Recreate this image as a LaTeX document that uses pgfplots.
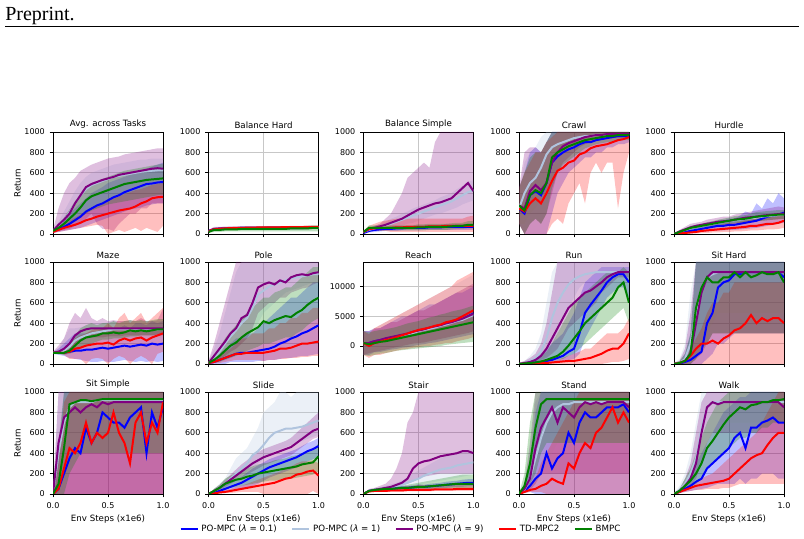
\documentclass[border=0pt]{standalone}
\usepackage{fontspec}
\setmainfont{DejaVu Sans}
\newfontfamily\serifx{Liberation Serif}
\usepackage{pgfplots}
\usepackage{pgfplotstable}
\pgfplotsset{compat=1.18}
\usepgfplotslibrary{fillbetween}
\definecolor{cb}{RGB}{0,0,255}
\definecolor{cs}{RGB}{176,196,222}
\definecolor{cp}{RGB}{128,0,128}
\definecolor{cr}{RGB}{255,0,0}
\definecolor{cg}{RGB}{0,128,0}

\newcommand\bandof[3]{%
  \addplot[draw=none,forget plot,name path=U#2] table[x=x,y=#2h]{#1};
  \addplot[draw=none,forget plot,name path=L#2] table[x=x,y=#2l]{#1};
  \addplot[fill=#3,fill opacity=0.25,draw=none,forget plot] fill between[of=U#2 and L#2];}
\newcommand\lineof[3]{\addplot[#3,line width=1.5pt,forget plot] table[x=x,y=#2]{#1};}
\newcommand\panel[1]{\bandof{#1}{b}{cb}\bandof{#1}{s}{cs}\bandof{#1}{p}{cp}\bandof{#1}{r}{cr}\bandof{#1}{g}{cg}%
  \lineof{#1}{b}{cb}\lineof{#1}{s}{cs}\lineof{#1}{p}{cp}\lineof{#1}{r}{cr}\lineof{#1}{g}{cg}}

% ---------- Avg. across Tasks
\pgfplotstableread{
k 0 0.05 0.1 0.15 0.2 0.25 0.3 0.35 0.4 0.45 0.5 0.55 0.6 0.65 0.7 0.75 0.8 0.85 0.9 0.95 1
b 30 50 70 100 135 170 220 250 280 300 330 360 380 410 430 450 470 490 495 505 510
bl 10 20 30 40 50 60 80 100 120 140 160 180 200 220 240 250 260 280 290 300 300
bh 50 100 150 200 250 300 350 400 430 460 500 520 540 560 580 600 620 640 660 680 700
s 30 80 140 210 300 380 440 480 500 520 540 560 570 580 590 600 610 615 620 625 625
sl 20 50 90 140 200 260 320 350 380 400 420 440 450 460 470 480 490 490 500 500 500
sh 40 120 220 320 420 500 560 600 620 640 660 680 690 700 710 720 730 730 740 740 740
p 30 90 140 200 300 380 460 490 510 530 545 560 580 590 600 610 620 630 640 645 640
pl 10 30 40 50 80 100 150 200 100 50 50 30 100 150 200 200 250 250 300 300 300
ph 40 250 400 500 550 620 650 680 700 720 740 750 760 780 790 800 810 820 830 840 840
r 20 40 60 75 90 110 135 150 170 185 200 215 230 240 250 270 300 320 350 360 365
rl 10 20 30 40 50 60 70 80 90 80 0 20 40 20 40 60 30 60 40 20 80
rh 30 70 100 130 160 190 220 250 280 300 330 350 370 390 410 430 440 460 480 490 500
g 30 60 100 150 200 260 330 370 390 410 430 450 470 490 500 510 520 530 535 540 545
gl 20 40 60 90 120 160 200 230 250 270 290 300 310 320 330 340 350 360 370 380 380
gh 40 90 160 240 320 380 450 500 520 540 560 580 600 620 630 640 650 660 670 680 690
}\rawA
\pgfplotstabletranspose[colnames from=k,input colnames to=x]\tA\rawA

% ---------- Balance Hard
\pgfplotstableread{
k 0 0.05 0.1 0.15 0.2 0.25 0.3 0.35 0.4 0.45 0.5 0.55 0.6 0.65 0.7 0.75 0.8 0.85 0.9 0.95 1
b 30 45 50 55 55 55 60 60 60 60 60 60 60 60 60 60 60 60 65 65 65
bl 20 30 35 40 40 40 45 45 45 45 45 45 45 45 45 45 45 45 50 50 50
bh 40 60 65 70 70 70 75 75 75 75 75 75 75 75 75 75 75 75 80 80 80
s 30 45 50 52 55 55 55 58 58 58 60 60 60 60 60 60 60 62 62 62 62
sl 20 30 35 40 40 40 40 45 45 45 45 45 45 45 45 45 45 45 45 45 45
sh 40 60 65 65 70 70 70 70 72 72 75 75 75 75 75 75 75 78 78 78 78
p 30 50 55 55 58 58 60 60 60 60 60 62 62 62 62 62 62 62 62 65 65
pl 20 35 40 40 42 42 45 45 45 45 45 45 45 45 45 45 45 45 45 50 50
ph 40 70 70 72 75 75 75 75 75 75 75 78 78 78 78 78 78 78 78 80 80
r 25 45 50 55 58 60 60 62 63 64 65 65 66 66 67 67 68 68 70 70 70
rl 20 40 45 50 52 55 55 56 57 58 58 58 60 60 60 60 60 60 62 62 62
rh 30 50 55 60 64 65 65 68 69 70 72 72 72 72 74 74 76 76 78 78 78
g 20 40 40 45 45 45 50 50 50 50 50 50 50 50 50 55 55 55 55 60 60
gl 10 20 20 25 25 25 25 25 25 25 25 25 25 25 25 25 25 25 25 25 25
gh 35 60 60 65 65 65 70 70 70 70 75 75 75 75 75 80 80 80 80 85 85
}\rawB
\pgfplotstabletranspose[colnames from=k,input colnames to=x]\tB\rawB

% ---------- Balance Simple
\pgfplotstableread{
k 0 0.05 0.1 0.15 0.2 0.25 0.3 0.35 0.4 0.45 0.5 0.55 0.6 0.65 0.7 0.75 0.8 0.85 0.9 0.95 1
b 10 30 40 45 50 50 55 55 60 60 60 60 65 65 65 70 70 70 70 70 70
bl 0 15 20 25 30 30 30 35 35 35 35 40 40 40 40 40 40 40 40 40 40
bh 20 45 60 65 70 70 75 75 80 80 85 85 90 90 90 95 95 95 95 100 100
s 20 40 55 70 85 100 120 140 160 180 200 220 240 260 280 300 320 350 380 410 430
sl 10 20 30 40 50 60 70 80 100 110 130 150 170 190 200 220 240 260 290 310 330
sh 30 60 80 100 120 150 170 200 220 250 270 290 310 330 360 380 400 440 470 510 530
p 20 45 60 75 90 110 130 150 180 210 240 260 280 300 310 330 350 400 450 500 420
pl 10 30 40 50 60 60 60 60 70 70 70 70 70 70 70 70 80 80 80 80 80
ph 30 60 80 100 150 200 300 400 550 600 650 700 650 900 1000 1000 1000 1000 1000 1000 1000
r 20 50 55 60 60 60 65 65 70 70 70 70 75 75 75 80 80 80 80 80 80
rl 10 30 30 30 30 20 20 20 20 20 20 20 20 20 20 20 20 20 20 20 20
rh 30 80 100 120 130 140 150 150 150 150 150 150 150 150 150 150 150 150 150 170 180
g 20 60 60 60 60 60 60 60 60 60 65 65 70 70 70 70 75 80 80 90 90
gl 10 35 35 35 35 35 35 35 35 35 35 35 40 40 40 40 45 50 50 55 55
gh 30 85 85 85 85 85 85 85 85 85 95 95 100 100 100 100 105 110 110 125 125
}\rawC
\pgfplotstabletranspose[colnames from=k,input colnames to=x]\tC\rawC

% ---------- Crawl
\pgfplotstableread{
k 0 0.05 0.1 0.15 0.2 0.25 0.3 0.35 0.4 0.45 0.5 0.55 0.6 0.65 0.7 0.75 0.8 0.85 0.9 0.95 1
b 250 200 380 420 380 500 700 760 800 830 850 880 900 900 920 930 940 950 960 960 960
bl 100 0 0 0 0 0 200 400 500 600 650 700 750 750 800 800 850 850 880 880 900
bh 450 600 800 850 800 900 1000 1000 1000 1000 1000 1000 1000 1000 1000 1000 1000 1000 1000 1000 1000
s 250 400 500 550 650 780 850 880 900 920 940 950 960 960 970 970 970 980 980 980 980
sl 100 100 200 250 350 550 700 780 820 850 880 900 920 920 940 940 940 950 950 950 950
sh 400 700 800 850 950 1000 1000 1000 1000 1000 1000 1000 1000 1000 1000 1000 1000 1000 1000 1000 1000
p 280 250 420 480 430 500 700 800 860 890 910 930 950 960 970 970 980 980 980 980 980
pl 100 0 100 150 100 200 400 600 700 750 800 850 880 900 920 920 940 940 940 940 940
ph 450 800 850 850 800 900 1000 1000 1000 1000 1000 1000 1000 1000 1000 1000 1000 1000 1000 1000 1000
r 250 220 300 350 300 400 520 620 650 700 720 780 800 840 860 870 880 900 920 930 950
rl 100 0 0 0 0 0 100 150 100 300 400 500 300 600 700 600 700 700 250 600 800
rh 450 600 700 800 800 900 950 1000 1000 1000 1000 1000 1000 1000 1000 1000 1000 1000 1000 1000 1000
g 280 230 380 430 400 500 750 800 830 860 880 900 920 930 940 950 960 960 970 970 970
gl 100 0 100 150 100 200 450 600 680 720 760 800 840 860 880 890 900 900 920 920 920
gh 450 600 750 800 800 900 1000 1000 1000 1000 1000 1000 1000 1000 1000 1000 1000 1000 1000 1000 1000
}\rawD
\pgfplotstabletranspose[colnames from=k,input colnames to=x]\tD\rawD

% ---------- Hurdle
\pgfplotstableread{
k 0 0.05 0.1 0.15 0.2 0.25 0.3 0.35 0.4 0.45 0.5 0.55 0.6 0.65 0.7 0.75 0.8 0.85 0.9 0.95 1
b 0 10 20 30 40 50 60 70 80 80 90 90 100 110 120 130 150 170 180 190 210
bl 0 0 5 10 15 20 25 30 35 35 40 40 45 50 55 60 70 80 90 100 110
bh 0 20 40 60 70 90 100 110 130 130 150 150 180 220 200 300 250 350 300 400 350
s 0 20 40 55 70 80 90 100 110 120 130 135 140 150 155 160 170 175 180 185 190
sl 0 10 25 35 50 60 65 75 85 90 100 105 110 115 120 125 130 135 140 145 150
sh 0 30 55 75 90 100 115 125 135 150 160 165 170 185 190 195 210 215 220 225 230
p 0 25 45 65 80 90 100 110 120 125 130 140 150 160 165 170 180 185 190 195 200
pl 0 10 25 40 55 65 70 80 85 90 95 100 105 115 120 125 130 135 140 145 150
ph 0 40 70 100 110 120 140 150 160 170 170 190 200 210 220 230 240 250 260 270 260
r 0 5 10 15 20 30 35 40 45 50 55 60 65 70 80 80 90 100 100 110 130
rl 0 0 0 5 5 10 10 15 15 20 20 25 25 30 35 35 40 45 45 50 60
rh 0 10 20 30 40 50 60 70 80 100 110 110 120 130 140 150 160 170 180 180 200
g 0 20 40 60 70 80 90 100 110 120 130 140 145 150 160 170 175 180 185 190 190
gl 0 10 25 40 50 60 65 75 80 90 100 105 110 115 120 125 130 135 140 145 145
gh 0 30 55 80 90 100 115 125 140 150 160 175 180 185 200 215 220 225 230 235 235
}\rawE
\pgfplotstabletranspose[colnames from=k,input colnames to=x]\tE\rawE

% ---------- Maze
\pgfplotstableread{
k 0 0.05 0.1 0.15 0.2 0.25 0.3 0.35 0.4 0.45 0.5 0.55 0.6 0.65 0.7 0.75 0.8 0.85 0.9 0.95 1
b 110 110 110 120 130 130 140 140 150 160 150 160 170 180 170 180 190 180 200 190 200
bl 100 90 80 60 50 40 30 20 20 30 20 20 30 40 30 20 30 20 30 20 30
bh 120 150 200 250 300 300 300 320 320 350 330 350 350 380 350 400 400 380 420 400 420
s 110 110 130 170 230 260 280 300 310 320 330 340 340 340 340 340 340 340 340 340 340
sl 100 90 90 100 130 160 180 200 220 230 240 250 250 250 260 260 260 260 260 260 260
sh 120 150 250 350 350 360 380 400 400 400 410 420 420 420 420 420 420 420 420 420 420
p 110 120 150 200 280 320 340 350 350 350 350 350 350 350 350 350 350 350 350 350 350
pl 100 100 100 120 180 220 250 260 260 260 270 270 270 280 280 280 280 280 280 280 280
ph 120 180 250 400 500 450 550 450 420 450 420 430 420 420 430 420 450 420 420 430 540
r 110 110 110 120 150 160 180 190 200 200 210 190 230 250 230 250 260 230 260 280 300
rl 100 100 90 50 50 50 0 50 60 50 0 50 80 60 0 50 80 50 0 100 120
rh 120 130 150 200 250 280 300 330 350 350 400 350 450 500 400 450 500 400 450 500 550
g 110 110 110 130 180 230 260 270 280 300 300 310 300 310 330 320 330 320 330 340 340
gl 100 100 90 100 120 150 180 200 220 240 240 250 250 260 270 270 280 280 280 290 290
gh 120 130 150 200 280 350 380 400 380 400 400 420 400 420 430 420 430 420 430 440 440
}\rawF
\pgfplotstabletranspose[colnames from=k,input colnames to=x]\tF\rawF

% ---------- Pole
\pgfplotstableread{
k 0 0.05 0.1 0.15 0.2 0.25 0.3 0.35 0.4 0.45 0.5 0.55 0.6 0.65 0.7 0.75 0.8 0.85 0.9 0.95 1
b 10 20 40 60 80 100 110 110 120 130 140 150 170 200 220 250 270 300 320 350 380
bl 0 0 0 0 20 20 20 20 20 30 30 40 40 50 60 60 70 80 80 90 100
bh 20 50 100 150 200 250 250 300 300 350 400 450 500 550 600 650 650 700 750 800 800
s 10 60 120 200 270 330 400 450 550 680 720 760 780 800 820 840 850 860 870 880 880
sl 0 10 30 60 100 150 200 250 300 400 500 550 600 650 700 720 740 760 780 800 800
sh 30 150 300 500 700 900 1000 1000 1000 1000 1000 1000 1000 1000 1000 1000 1000 1000 1000 1000 1000
p 10 80 150 220 300 350 450 480 600 750 780 800 780 820 800 850 870 880 870 890 900
pl 0 20 50 80 120 150 200 250 350 500 550 600 600 650 650 700 720 740 750 780 800
ph 30 200 400 600 800 1000 1000 1000 1000 1000 1000 1000 1000 1000 1000 1000 1000 1000 1000 1000 1000
r 10 20 40 60 80 100 100 110 110 110 110 120 130 150 150 160 180 200 200 210 220
rl 0 5 10 20 30 40 40 40 40 40 30 40 40 50 50 60 60 70 70 80 80
rh 20 40 80 120 150 200 250 250 300 300 300 350 350 400 400 450 450 500 500 550 550
g 10 40 80 130 180 210 260 300 330 360 420 400 430 450 470 460 500 530 580 620 650
gl 0 10 20 40 60 80 100 130 150 170 200 200 220 240 260 260 300 330 380 420 450
gh 20 80 160 250 320 380 450 500 550 600 650 650 700 720 750 750 800 850 900 950 950
}\rawG
\pgfplotstabletranspose[colnames from=k,input colnames to=x]\tG\rawG

% ---------- Reach
\pgfplotstableread{
k 0 0.05 0.1 0.15 0.2 0.25 0.3 0.35 0.4 0.45 0.5 0.55 0.6 0.65 0.7 0.75 0.8 0.85 0.9 0.95 1
b 500 500 800 1000 1200 1400 1600 1800 2000 2300 2600 2800 3000 3200 3500 3700 4000 4300 4500 5000 5500
bl -1500 -1500 -1000 -1000 -800 -600 -500 -300 -200 0 200 300 500 600 800 1000 1200 1400 1600 1800 2000
bh 2500 2500 2800 3000 3500 4000 4500 5000 5000 5500 6000 6500 7000 7000 7500 8000 8500 9000 9000 9500 10000
s 500 400 700 900 1100 1300 1500 1800 2000 2200 2500 2700 2900 3100 3400 3600 3900 4200 4400 4800 5200
sl -1500 -1500 -1200 -1000 -800 -600 -400 -200 0 200 400 500 700 800 1000 1200 1400 1600 1800 2000 2200
sh 2500 2500 3000 3500 4000 4500 5000 5500 6000 6500 7000 7500 8000 8500 9000 9500 10000 10500 11000 11500 12000
p 500 500 800 1000 1300 1500 1700 1900 2100 2400 2600 2800 3100 3300 3500 3800 4000 4300 4600 5000 5400
pl -1500 -1200 -1000 -800 -600 -400 -200 0 200 400 500 600 800 1000 1200 1400 1600 1800 2000 2200 2500
ph 2500 2500 3000 3000 3500 4000 4000 4500 5000 5500 6000 6000 6500 7000 7500 8000 8500 9000 9500 10000 10500
r 500 0 500 700 1000 1200 1500 1800 2100 2400 2700 2900 3100 3400 3600 4000 4200 4500 5000 5500 6000
rl -1500 -2000 -1500 -1500 -1200 -1000 -800 -600 -500 -300 -200 0 0 200 300 500 500 800 1000 1200 1500
rh 2500 2000 3000 3500 4000 4500 5000 5500 6000 6500 7000 7500 8000 8500 9000 9500 10000 11000 11500 12000 12500
g 500 300 500 700 800 1000 1200 1400 1600 1800 2000 2200 2400 2600 2800 3000 3200 3400 3600 3800 4000
gl -1500 -1700 -1500 -1300 -1200 -1000 -800 -700 -600 -500 -400 -300 -200 -100 0 200 300 400 500 600 700
gh 2500 2300 2500 2700 2800 3000 3200 3500 3800 4000 4200 4500 4800 5000 5300 5500 5800 6000 6200 6500 6800
}\rawH
\pgfplotstabletranspose[colnames from=k,input colnames to=x]\tH\rawH

% ---------- Run
\pgfplotstableread{
k 0 0.05 0.1 0.15 0.2 0.25 0.3 0.35 0.4 0.45 0.5 0.55 0.6 0.65 0.7 0.75 0.8 0.85 0.9 0.95 1
b 0 5 10 15 20 30 40 60 80 120 150 300 500 580 650 720 800 850 880 880 800
bl 0 0 0 0 0 0 10 20 30 40 50 100 250 350 450 550 650 700 750 750 650
bh 10 20 40 60 100 150 200 250 300 400 500 650 800 850 900 950 950 950 950 950 950
s 0 10 30 60 120 250 450 600 700 780 830 860 880 890 900 900 900 900 900 900 900
sl 0 0 10 20 40 80 150 300 450 550 650 750 800 850 880 880 880 880 880 880 880
sh 10 30 80 150 300 600 900 1000 1000 1000 1000 1000 1000 1000 1000 1000 1000 1000 1000 1000 1000
p 0 10 20 40 80 150 250 350 450 550 600 650 700 720 760 800 850 880 900 900 900
pl 0 0 10 20 40 60 100 150 250 350 400 450 500 550 600 700 750 800 850 850 850
ph 10 30 60 100 200 400 700 1000 1000 1000 1000 1000 1000 1000 1000 1000 1000 1000 1000 1000 1000
r 0 0 5 5 10 10 15 20 25 30 30 40 50 60 80 100 130 150 150 200 300
rl 0 0 0 0 0 0 0 0 0 0 0 0 0 0 0 0 10 20 20 30 50
rh 0 5 10 15 20 25 30 40 60 80 100 120 150 150 200 250 300 300 300 350 450
g 0 5 10 15 25 40 60 80 120 180 250 320 400 450 500 550 600 650 750 800 600
gl 0 0 0 5 10 20 30 40 50 80 100 150 200 250 300 350 400 450 500 550 400
gh 5 15 30 50 80 120 200 300 400 500 600 650 700 750 800 850 900 900 900 950 900
}\rawI
\pgfplotstabletranspose[colnames from=k,input colnames to=x]\tI\rawI

% ---------- Sit Hard
\pgfplotstableread{
k 0 0.05 0.1 0.15 0.2 0.25 0.3 0.35 0.4 0.45 0.5 0.55 0.6 0.65 0.7 0.75 0.8 0.85 0.9 0.95 1
b 0 5 20 40 80 120 400 500 750 800 820 880 880 900 900 900 900 900 900 900 850
bl 0 0 0 0 0 0 50 100 200 200 250 300 300 300 300 300 300 300 300 300 300
bh 10 20 100 300 1000 1000 1000 1000 1000 1000 1000 1000 1000 1000 1000 1000 1000 1000 1000 1000 1000
s 0 10 50 200 500 750 850 880 900 900 900 900 900 900 900 900 900 900 900 900 900
sl 0 0 0 50 100 200 300 400 500 500 500 500 500 500 500 500 500 500 500 500 500
sh 10 50 200 700 1000 1000 1000 1000 1000 1000 1000 1000 1000 1000 1000 1000 1000 1000 1000 1000 1000
p 0 10 30 100 400 700 850 900 900 900 900 900 900 900 900 900 900 900 900 900 900
pl 0 0 0 0 50 100 200 300 300 300 300 300 300 300 300 300 300 300 300 300 300
ph 10 30 150 500 1000 1000 1000 1000 1000 1000 1000 1000 1000 1000 1000 1000 1000 1000 1000 1000 1000
r 0 10 30 80 150 200 200 230 200 250 280 330 350 400 480 400 450 420 450 450 400
rl 0 0 0 0 0 0 0 0 0 0 0 0 0 0 0 0 0 0 0 0 0
rh 5 20 60 150 250 350 500 600 600 700 700 800 800 800 800 800 800 800 800 800 800
g 0 10 30 100 550 750 850 800 800 850 850 900 850 900 850 870 900 880 880 900 800
gl 0 0 0 0 50 150 200 300 300 300 300 300 300 300 300 300 300 300 300 300 300
gh 10 30 100 300 1000 1000 1000 1000 1000 1000 1000 1000 1000 1000 1000 1000 1000 1000 1000 1000 1000
}\rawJ
\pgfplotstabletranspose[colnames from=k,input colnames to=x]\tJ\rawJ

% ---------- Sit Simple
\pgfplotstableread{
k 0 0.05 0.1 0.15 0.2 0.25 0.3 0.35 0.4 0.45 0.5 0.55 0.6 0.65 0.7 0.75 0.8 0.85 0.9 0.95 1
b 0 50 200 350 450 400 650 500 600 800 750 700 700 650 750 800 850 400 800 650 850
bl 0 0 0 0 0 0 0 0 0 0 0 0 0 0 0 0 0 0 0 0 0
bh 10 400 1000 1000 1000 1000 1000 1000 1000 1000 1000 1000 1000 1000 1000 1000 1000 1000 1000 1000 1000
s 0 400 700 850 900 900 900 900 920 920 920 920 920 920 920 920 920 920 920 920 920
sl 0 50 200 300 400 400 400 400 400 400 400 400 400 400 400 400 400 400 400 400 400
sh 10 1000 1000 1000 1000 1000 1000 1000 1000 1000 1000 1000 1000 1000 1000 1000 1000 1000 1000 1000 1000
p 0 500 750 800 850 800 850 880 850 900 880 900 900 900 900 900 900 900 900 900 900
pl 0 0 0 0 0 0 0 0 0 0 0 0 0 0 0 0 0 0 0 0 0
ph 10 1000 1000 1000 1000 1000 1000 1000 1000 1000 1000 1000 1000 1000 1000 1000 1000 1000 1000 1000 1000
r 0 50 250 450 400 500 700 500 600 550 600 800 600 500 300 700 800 500 700 600 900
rl 0 0 0 0 0 0 0 0 0 0 0 0 0 0 0 0 0 0 0 0 0
rh 10 300 900 1000 1000 1000 1000 1000 1000 1000 1000 1000 1000 1000 1000 1000 1000 1000 1000 1000 1000
g 0 100 450 880 900 920 920 910 920 930 930 930 930 930 930 930 930 930 930 930 930
gl 0 0 0 200 300 400 400 400 400 400 400 400 400 400 400 400 400 400 400 400 400
gh 10 500 1000 1000 1000 1000 1000 1000 1000 1000 1000 1000 1000 1000 1000 1000 1000 1000 1000 1000 1000
}\rawK
\pgfplotstabletranspose[colnames from=k,input colnames to=x]\tK\rawK

% ---------- Slide
\pgfplotstableread{
k 0 0.05 0.1 0.15 0.2 0.25 0.3 0.35 0.4 0.45 0.5 0.55 0.6 0.65 0.7 0.75 0.8 0.85 0.9 0.95 1
b 0 15 30 50 70 90 110 140 170 200 230 260 280 300 320 340 360 390 420 440 470
bl 0 5 10 20 30 40 50 60 80 100 130 160 180 200 220 240 260 290 320 340 370
bh 0 30 60 90 110 140 170 210 250 280 310 340 360 380 400 420 440 470 500 520 550
s 0 30 60 100 150 200 250 300 380 420 480 550 600 620 640 640 650 660 680 700 720
sl 0 10 30 60 100 140 180 220 260 300 340 380 420 440 460 480 500 520 540 560 580
sh 0 50 100 150 250 350 400 450 550 650 800 850 900 1000 1000 950 1000 1000 1000 1000 1000
p 0 30 60 100 140 180 220 260 300 330 360 380 400 420 440 460 500 540 580 620 640
pl 0 15 40 70 100 130 160 190 220 250 280 300 320 340 360 380 420 460 500 540 560
ph 0 50 90 140 190 240 290 330 380 410 440 460 480 500 520 550 600 650 700 750 800
r 0 5 15 20 30 40 50 60 70 80 90 100 110 130 150 160 190 200 220 230 180
rl 0 0 5 10 10 15 20 20 20 20 0 0 0 0 0 0 0 0 0 30 0
rh 0 15 30 40 50 70 80 100 120 140 160 180 200 220 250 270 300 320 320 330 300
g 0 30 60 100 120 140 150 170 180 200 210 220 230 240 250 260 270 290 300 310 370
gl 0 15 30 50 60 70 80 90 100 110 120 130 130 140 150 150 160 170 180 190 220
gh 0 50 90 150 180 210 230 250 270 290 300 310 330 340 350 370 380 400 420 430 500
}\rawL
\pgfplotstabletranspose[colnames from=k,input colnames to=x]\tL\rawL

% ---------- Stair
\pgfplotstableread{
k 0 0.05 0.1 0.15 0.2 0.25 0.3 0.35 0.4 0.45 0.5 0.55 0.6 0.65 0.7 0.75 0.8 0.85 0.9 0.95 1
b 0 30 40 45 50 50 55 60 60 65 70 70 75 80 85 90 95 100 105 110 110
bl 0 20 30 35 35 35 40 40 40 45 45 50 50 55 60 60 65 70 70 75 75
bh 0 40 50 55 65 65 70 80 80 85 95 90 100 105 110 120 125 130 140 145 145
s 0 30 40 50 60 70 80 90 110 130 150 180 200 220 240 250 260 280 290 300 310
sl 0 20 30 35 40 45 50 55 60 70 80 100 110 120 130 140 150 160 170 180 190
sh 0 40 50 65 80 95 110 130 160 200 230 260 290 320 350 370 380 400 420 430 440
p 0 30 40 50 60 70 90 110 150 250 300 320 330 350 370 380 390 400 420 420 400
pl 0 20 30 35 40 50 60 80 100 120 150 170 180 190 200 200 200 200 200 200 200
ph 0 50 60 80 100 150 250 400 700 800 1000 1000 1000 1000 1000 1000 1000 1000 1000 1000 1000
r 0 25 30 30 30 35 35 35 40 40 40 40 40 45 45 45 45 50 50 50 50
rl 0 15 20 20 20 20 20 20 25 25 25 25 25 30 30 30 30 30 30 30 30
rh 0 35 40 45 50 55 60 70 80 80 90 90 90 90 90 90 90 90 90 90 90
g 0 30 40 45 50 50 55 60 60 65 70 70 75 80 85 90 95 100 100 100 100
gl 0 20 30 35 35 35 40 40 40 45 45 45 50 50 55 55 60 60 60 60 60
gh 0 40 50 55 65 70 75 80 90 100 110 120 130 140 150 160 170 180 190 190 190
}\rawM
\pgfplotstabletranspose[colnames from=k,input colnames to=x]\tM\rawM

% ---------- Stand
\pgfplotstableread{
k 0 0.05 0.1 0.15 0.2 0.25 0.3 0.35 0.4 0.45 0.5 0.55 0.6 0.65 0.7 0.75 0.8 0.85 0.9 0.95 1
b 0 30 80 150 200 400 250 350 400 600 500 700 800 750 750 800 850 850 850 880 800
bl 0 10 20 0 0 0 0 0 0 0 0 0 0 0 0 0 0 0 0 0 0
bh 0 60 300 800 1000 1000 1000 1000 1000 1000 1000 1000 1000 1000 1000 1000 1000 1000 1000 1000 1000
s 0 40 150 350 550 700 800 850 880 880 900 900 900 900 900 900 900 900 900 900 900
sl 0 20 50 100 200 300 400 500 500 500 500 500 500 500 500 500 500 500 500 500 500
sh 0 80 400 900 1000 1000 1000 1000 1000 1000 1000 1000 1000 1000 1000 1000 1000 1000 1000 1000 1000
p 0 50 150 450 650 750 850 700 850 800 750 850 900 880 900 880 900 900 900 900 850
pl 0 20 40 100 200 200 200 200 200 200 200 200 200 200 200 200 200 200 200 200 200
ph 0 100 500 1000 1000 1000 1000 1000 1000 1000 1000 1000 1000 1000 1000 1000 1000 1000 1000 1000 1000
r 0 20 40 50 80 100 150 120 100 300 250 400 500 450 600 650 750 850 700 800 700
rl 0 10 20 20 20 0 0 0 0 0 0 0 0 0 0 0 0 0 0 0 0
rh 0 40 80 150 300 400 500 600 700 800 900 1000 1000 1000 1000 1000 1000 1000 1000 1000 1000
g 0 80 300 650 880 930 930 930 930 930 930 930 930 930 930 930 930 930 930 930 930
gl 0 30 100 200 400 500 500 500 500 500 500 500 500 500 500 500 500 500 500 500 500
gh 0 200 700 1000 1000 1000 1000 1000 1000 1000 1000 1000 1000 1000 1000 1000 1000 1000 1000 1000 1000
}\rawN
\pgfplotstabletranspose[colnames from=k,input colnames to=x]\tN\rawN

% ---------- Walk
\pgfplotstableread{
k 0 0.05 0.1 0.15 0.2 0.25 0.3 0.35 0.4 0.45 0.5 0.55 0.6 0.65 0.7 0.75 0.8 0.85 0.9 0.95 1
b 0 20 50 80 120 150 250 300 350 400 450 550 600 450 650 650 700 720 750 700 700
bl 0 10 20 30 40 50 60 80 100 100 100 100 150 100 150 150 200 200 200 150 150
bh 0 40 100 200 300 400 500 600 700 800 850 900 950 950 1000 1000 1000 1000 1000 1000 1000
s 0 40 100 200 350 650 850 900 900 900 900 900 900 900 900 900 900 900 900 900 900
sl 0 20 50 100 200 350 500 600 700 700 700 700 700 700 700 700 700 700 700 700 700
sh 0 80 200 400 700 1000 1000 1000 1000 1000 1000 1000 1000 1000 1000 1000 1000 1000 1000 1000 1000
p 0 30 80 150 300 600 850 900 880 900 900 900 900 900 900 900 900 900 900 900 850
pl 0 15 40 80 150 300 500 600 600 600 600 600 600 600 600 600 600 600 600 600 600
ph 0 50 150 300 600 900 1000 1000 1000 1000 1000 1000 1000 1000 1000 1000 1000 1000 1000 1000 1000
r 0 20 40 60 80 90 100 110 120 130 150 200 250 300 350 380 400 480 550 600 600
rl 0 10 20 30 40 40 50 50 50 60 60 80 100 100 100 100 100 100 100 100 100
rh 0 30 60 90 120 150 180 200 250 300 350 400 450 500 550 600 700 800 900 1000 1000
g 0 30 80 130 200 300 450 520 600 680 750 800 850 830 870 880 900 900 920 920 930
gl 0 15 40 70 100 150 250 300 350 400 450 500 550 550 600 600 650 650 700 700 700
gh 0 50 150 250 400 550 700 800 900 950 1000 1000 1000 1000 1000 1000 1000 1000 1000 1000 1000
}\rawO
\pgfplotstabletranspose[colnames from=k,input colnames to=x]\tO\rawO

\pgfplotsset{
  panel/.style={scale only axis, width=82.5pt, height=76.5pt, anchor=south west,
    xmin=0, xmax=1, ymin=0, ymax=1000, xtick={0,0.5,1}, ytick={0,200,...,1000},
    grid=major, grid style={line width=0.5pt, black!22},
    tick align=outside, tick pos=left, major tick length=2.6pt,
    axis line style={line width=0.6pt}, tick style={line width=0.6pt, black},
    title style={font=\fontsize{6.5}{7}\selectfont, yshift=-7pt},
    tick label style={font=\fontsize{6}{7}\selectfont},
    label style={font=\fontsize{6.5}{7}\selectfont},
    /pgf/number format/assume math mode=true,
    xticklabel style={/pgf/number format/.cd, fixed, fixed zerofill, precision=1},
    yticklabel style={/pgf/number format/.cd, fixed, 1000 sep={}},
    scaled y ticks=false},
  toprow/.style={xticklabels={}},
  botrow/.style={xlabel={Env Steps (x1e6)}, xlabel style={yshift=2pt}},
  firstcol/.style={ylabel={Return}, ylabel style={yshift=-4pt}}
}

\begin{document}
\begin{tikzpicture}
\node[anchor=base west, inner sep=0pt, font=\serifx\fontsize{15}{18}\selectfont] at (3.75pt,388.5pt) {Preprint.};
\draw[line width=0.75pt] (3.75pt,384pt) -- (599.25pt,384pt);

% Row 1
\begin{axis}[panel, toprow, firstcol, at={(39.75pt,228.75pt)}, title={Avg. across Tasks}]
\panel{\tA}
\end{axis}
\begin{axis}[panel, toprow, at={(156.4pt,228.75pt)}, title={Balance Hard}]
\panel{\tB}
\end{axis}
\begin{axis}[panel, toprow, at={(272.6pt,228.75pt)}, title={Balance Simple}]
\panel{\tC}
\end{axis}
\begin{axis}[panel, toprow, at={(389.25pt,228.75pt)}, title={Crawl}]
\panel{\tD}
\end{axis}
\begin{axis}[panel, toprow, at={(505.5pt,228.75pt)}, title={Hurdle}]
\panel{\tE}
\end{axis}

% Row 2
\begin{axis}[panel, toprow, firstcol, at={(39.75pt,131.25pt)}, title={Maze}]
\panel{\tF}
\end{axis}
\begin{axis}[panel, toprow, at={(156.4pt,131.25pt)}, title={Pole}]
\panel{\tG}
\end{axis}
\begin{axis}[panel, toprow, at={(272.6pt,131.25pt)}, title={Reach}, ymin=-3030, ymax=14140, ytick={0,5000,10000}]
\panel{\tH}
\end{axis}
\begin{axis}[panel, toprow, at={(389.25pt,131.25pt)}, title={Run}]
\panel{\tI}
\end{axis}
\begin{axis}[panel, toprow, at={(505.5pt,131.25pt)}, title={Sit Hard}]
\panel{\tJ}
\end{axis}

% Row 3
\begin{axis}[panel, botrow, firstcol, at={(39.75pt,33.75pt)}, title={Sit Simple}]
\panel{\tK}
\end{axis}
\begin{axis}[panel, botrow, at={(156.4pt,33.75pt)}, title={Slide}]
\panel{\tL}
\end{axis}
\begin{axis}[panel, botrow, at={(272.6pt,33.75pt)}, title={Stair}]
\panel{\tM}
\end{axis}
\begin{axis}[panel, botrow, at={(389.25pt,33.75pt)}, title={Stand}]
\panel{\tN}
\end{axis}
\begin{axis}[panel, botrow, at={(505.5pt,33.75pt)}, title={Walk}]
\panel{\tO}
\end{axis}

% Legend
\begin{axis}[hide axis, scale only axis, width=10pt, height=10pt, xmin=0, xmax=1, ymin=0, ymax=1,
  at={(301pt,7.5pt)}, anchor=center,
  legend style={at={(0.5,0.5)}, anchor=center, draw=none, fill=none,
    font=\fontsize{6.5}{7.5}\selectfont, inner sep=1pt,
    /tikz/every even column/.append style={column sep=9pt}},
  legend columns=5,
  legend image code/.code={\draw[#1] (0pt,0pt) -- (12.75pt,0pt);}]
\addlegendimage{cb, line width=1.5pt}\addlegendentry{PO-MPC (\textit{λ} = 0.1)}
\addlegendimage{cs, line width=1.5pt}\addlegendentry{PO-MPC (\textit{λ} = 1)}
\addlegendimage{cp, line width=1.5pt}\addlegendentry{PO-MPC (\textit{λ} = 9)}
\addlegendimage{cr, line width=1.5pt}\addlegendentry{TD-MPC2}
\addlegendimage{cg, line width=1.5pt}\addlegendentry{BMPC}
\end{axis}

\pgfresetboundingbox
\path[use as bounding box] (0,0) rectangle (603pt,404.25pt);
\end{tikzpicture}
\end{document}
